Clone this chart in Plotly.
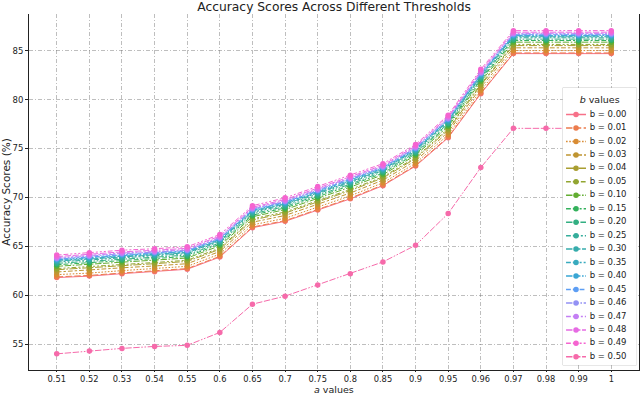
import plotly.graph_objects as go

OUTPUT_FILE = 'out.html'

# x categories (a values) and series labels (b values)
A_LABELS = ['0.51', '0.52', '0.53', '0.54', '0.55', '0.6', '0.65', '0.7', '0.75',
            '0.8', '0.85', '0.9', '0.95', '0.96', '0.97', '0.98', '0.99', '1']
B_LABELS = ['0.00', '0.01', '0.02', '0.03', '0.04', '0.05', '0.10', '0.15', '0.20',
            '0.25', '0.30', '0.35', '0.40', '0.45', '0.46', '0.47', '0.48', '0.49', '0.50']

# accuracy (%) per b value, one entry per a value
ACC_000 = [61.80, 61.95, 62.20, 62.40, 62.65, 63.90, 66.90, 67.55, 68.70, 69.85, 71.20, 73.20, 76.10, 80.60, 84.70, 84.70, 84.70, 84.70]
ACC_001 = [61.87, 62.02, 62.27, 62.47, 62.72, 63.97, 66.97, 67.62, 68.77, 69.92, 71.27, 73.27, 76.17, 80.67, 84.77, 84.77, 84.77, 84.77]
ACC_002 = [62.10, 62.26, 62.51, 62.71, 62.95, 64.20, 67.19, 67.86, 69.01, 70.16, 71.49, 73.49, 76.40, 80.92, 85.01, 85.01, 85.01, 85.01]
ACC_003 = [62.37, 62.55, 62.80, 62.99, 63.22, 64.47, 67.46, 68.15, 69.30, 70.45, 71.76, 73.75, 76.67, 81.22, 85.29, 85.29, 85.29, 85.29]
ACC_004 = [62.60, 62.79, 63.04, 63.22, 63.45, 64.70, 67.69, 68.39, 69.54, 70.69, 71.99, 73.97, 76.90, 81.47, 85.52, 85.52, 85.52, 85.52]
ACC_005 = [62.72, 62.91, 63.16, 63.34, 63.57, 64.82, 67.80, 68.51, 69.66, 70.81, 72.10, 74.08, 77.02, 81.60, 85.64, 85.64, 85.64, 85.64]
ACC_010 = [62.95, 63.15, 63.40, 63.57, 63.80, 65.05, 68.02, 68.75, 69.90, 71.05, 72.32, 74.30, 77.25, 81.85, 85.87, 85.87, 85.87, 85.87]
ACC_015 = [63.11, 63.32, 63.57, 63.74, 63.96, 65.21, 68.18, 68.92, 70.07, 71.22, 72.48, 74.45, 77.41, 82.02, 86.04, 86.04, 86.04, 86.04]
ACC_020 = [63.25, 63.46, 63.71, 63.88, 64.10, 65.35, 68.32, 69.06, 70.21, 71.36, 72.62, 74.59, 77.55, 82.17, 86.18, 86.18, 86.18, 86.18]
ACC_025 = [63.39, 63.61, 63.86, 64.02, 64.24, 65.49, 68.45, 69.21, 70.36, 71.51, 72.75, 74.72, 77.69, 82.32, 86.32, 86.32, 86.32, 86.32]
ACC_030 = [63.48, 63.70, 63.95, 64.12, 64.33, 65.58, 68.54, 69.30, 70.45, 71.60, 72.84, 74.81, 77.78, 82.42, 86.42, 86.42, 86.42, 86.42]
ACC_035 = [63.55, 63.77, 64.02, 64.19, 64.40, 65.65, 68.61, 69.37, 70.52, 71.67, 72.91, 74.87, 77.85, 82.50, 86.49, 86.49, 86.49, 86.49]
ACC_040 = [63.62, 63.85, 64.10, 64.26, 64.47, 65.72, 68.68, 69.45, 70.60, 71.75, 72.98, 74.94, 77.92, 82.57, 86.56, 86.56, 86.56, 86.56]
ACC_045 = [63.69, 63.92, 64.17, 64.33, 64.54, 65.79, 68.74, 69.52, 70.67, 71.82, 73.04, 75.00, 77.99, 82.65, 86.63, 86.63, 86.63, 86.63]
ACC_046 = [63.75, 63.99, 64.24, 64.40, 64.60, 65.85, 68.81, 69.59, 70.74, 71.89, 73.11, 75.07, 78.05, 82.72, 86.70, 86.70, 86.70, 86.70]
ACC_047 = [63.82, 64.06, 64.31, 64.47, 64.67, 65.92, 68.88, 69.66, 70.81, 71.96, 73.18, 75.14, 78.12, 82.80, 86.77, 86.77, 86.77, 86.77]
ACC_048 = [63.94, 64.18, 64.43, 64.59, 64.79, 66.04, 68.99, 69.78, 70.93, 72.08, 73.29, 75.25, 78.24, 82.92, 86.89, 86.89, 86.89, 86.89]
ACC_049 = [64.10, 64.35, 64.60, 64.75, 64.95, 66.20, 69.15, 69.95, 71.10, 72.25, 73.45, 75.40, 78.40, 83.10, 87.05, 87.05, 87.05, 87.05]
ACC_050 = [54.00, 54.30, 54.56, 54.76, 54.87, 56.19, 59.08, 59.90, 61.05, 62.20, 63.40, 65.10, 68.35, 73.05, 77.06, 77.06, 77.06, 77.06]

SERIES = [ACC_000, ACC_001, ACC_002, ACC_003, ACC_004, ACC_005, ACC_010, ACC_015, ACC_020,
          ACC_025, ACC_030, ACC_035, ACC_040, ACC_045, ACC_046, ACC_047, ACC_048, ACC_049, ACC_050]

# husl-like palette, one colour per b value
COLORS = ['#f77189', '#ec7c4d', '#d88b32', '#bf9532', '#a99e31', '#92a531', '#62ad31',
          '#33b15c', '#33af82', '#35ad9b', '#36acac', '#38aabe', '#39a6d4', '#5d9ef4',
          '#9391f4', '#c47ff4', '#e66be3', '#f564d0', '#f66aaa']

# seaborn-style dash specs (in line-width units)
DASHES = [(), (4, 1.5), (1, 1), (3, 1.25, 1.5, 1.25), (5, 1, 1, 1),
          (3, 1.25, 1.25, 1.25, 1.25, 1.25), (4, 1, 4, 1, 1, 1),
          (3, 1.25, 3, 1.25, 1.25, 1.25), (4, 1, 1, 1, 1, 1),
          (3, 1.25, 1.25, 1.25, 1.25, 1.25, 1.25, 1.25), (4, 1, 4, 1, 4, 1, 1, 1),
          (3, 1.25, 3, 1.25, 1.25, 1.25, 1.25, 1.25), (4, 1, 4, 1, 1, 1, 1, 1),
          (3, 1.25, 3, 1.25, 3, 1.25, 1.25, 1.25), (4, 1, 1, 1, 1, 1, 1, 1),
          (3, 1.25, 1.25, 1.25, 1.25, 1.25, 1.25, 1.25, 1.25, 1.25),
          (4, 1, 4, 1, 4, 1, 4, 1, 1, 1),
          (3, 1.25, 3, 1.25, 1.25, 1.25, 1.25, 1.25, 1.25, 1.25),
          (4, 1, 4, 1, 4, 1, 1, 1, 1, 1)]
DASH_UNIT = 1.6
FONT = 'DejaVu Sans'
GRID = 'rgba(110,110,110,0.45)'


def dash_str(spec):
    if not spec:
        return 'solid'
    return ','.join(f'{v * DASH_UNIT:.1f}px' for v in spec)


fig = go.Figure()

for lab, vals, col, dsh in zip(B_LABELS, SERIES, COLORS, DASHES):
    fig.add_trace(go.Scatter(
        x=A_LABELS, y=vals, mode='lines+markers', name=f'b = {lab}',
        line=dict(color=col, width=1, dash=dash_str(dsh)),
        marker=dict(size=5.5, color=col),
        showlegend=False,
        hovertemplate=f'b = {lab}<br>a = %{{x}}<br>%{{y:.2f}}%<extra></extra>'
    ))

# legend drawn in a small inset axes (plotly's own legend rows are too tall for 19 entries)
SWATCH_X = [3.3, 13.3, 23.3]
for i, (lab, col, dsh) in enumerate(zip(B_LABELS, COLORS, DASHES)):
    fig.add_trace(go.Scatter(
        x=SWATCH_X, y=[i] * 3, xaxis='x2', yaxis='y2', mode='lines+markers',
        line=dict(color=col, width=1.5, dash=dash_str(dsh)),
        marker=dict(size=5.5, color=col, opacity=[0, 1, 0]),
        hoverinfo='skip', showlegend=False, cliponaxis=False
    ))
fig.add_trace(go.Scatter(
    x=[27] * len(B_LABELS), y=list(range(len(B_LABELS))),
    text=[f'b = {lab}' for lab in B_LABELS], mode='text', textposition='middle right',
    textfont=dict(family=FONT, size=8.5, color='#222'), cliponaxis=False,
    xaxis='x2', yaxis='y2', hoverinfo='skip', showlegend=False
))
fig.add_trace(go.Scatter(
    x=[37], y=[-1.05], text=['<i>b</i> values'], mode='text', textposition='middle center',
    textfont=dict(family=FONT, size=9.5, color='#222'), cliponaxis=False,
    xaxis='x2', yaxis='y2', hoverinfo='skip', showlegend=False
))

fig.add_shape(type='rect', xref='x2 domain', yref='y2 domain', x0=0, x1=1, y0=0, y1=1,
              fillcolor='rgba(255,255,255,0.8)', line=dict(color='#d0d0d0', width=1),
              layer='below')

# x axis title as annotation so it sits inside the tight bottom margin
fig.add_annotation(text='<i>a</i> values', xref='paper', yref='paper', x=0.5, y=-0.0548,
                   xanchor='center', yanchor='middle', showarrow=False,
                   font=dict(family=FONT, size=9.5, color='#222'))

fig.update_layout(
    width=640, height=394,
    margin=dict(l=29, r=1, t=14, b=24),
    paper_bgcolor='white', plot_bgcolor='white',
    font=dict(family=FONT, color='#222'),
    title=dict(text='Accuracy Scores Across Different Thresholds',
               x=0.522, xanchor='center', y=0.982, yanchor='middle',
               font=dict(size=12.3, color='#222')),
    showlegend=False,
    xaxis=dict(
        type='category', range=[-0.85, 17.85], domain=[0, 1], anchor='y',
        showgrid=True, gridcolor=GRID, gridwidth=0.8, griddash='4px,2px,1px,2px',
        showline=True, linecolor='#222', linewidth=1,
        ticks='outside', ticklen=1, tickcolor='#222', tickfont=dict(size=8.3),
        automargin=False, zeroline=False
    ),
    yaxis=dict(
        range=[52.35, 88.75], tick0=55, dtick=5, domain=[0, 1], anchor='x',
        showgrid=True, gridcolor=GRID, gridwidth=0.8, griddash='4px,2px,1px,2px',
        showline=True, mirror=True, linecolor='#222', linewidth=1,
        ticks='outside', ticklen=3, tickcolor='#222', tickfont=dict(size=8.5),
        title=dict(text='Accuracy Scores (%)', font=dict(size=10.5), standoff=2),
        automargin=False, zeroline=False
    ),
    xaxis2=dict(domain=[0.875, 0.996], range=[0, 74], anchor='y2', visible=False,
                fixedrange=True),
    yaxis2=dict(domain=[0.014, 0.7924], range=[18.61, -1.975], anchor='x2', visible=False,
                fixedrange=True),
)

# the page's default body margin would push the 640x394 figure out of the window
fig.write_html(OUTPUT_FILE, config={'displayModeBar': False},
               post_script="document.body.style.margin = '0';")
